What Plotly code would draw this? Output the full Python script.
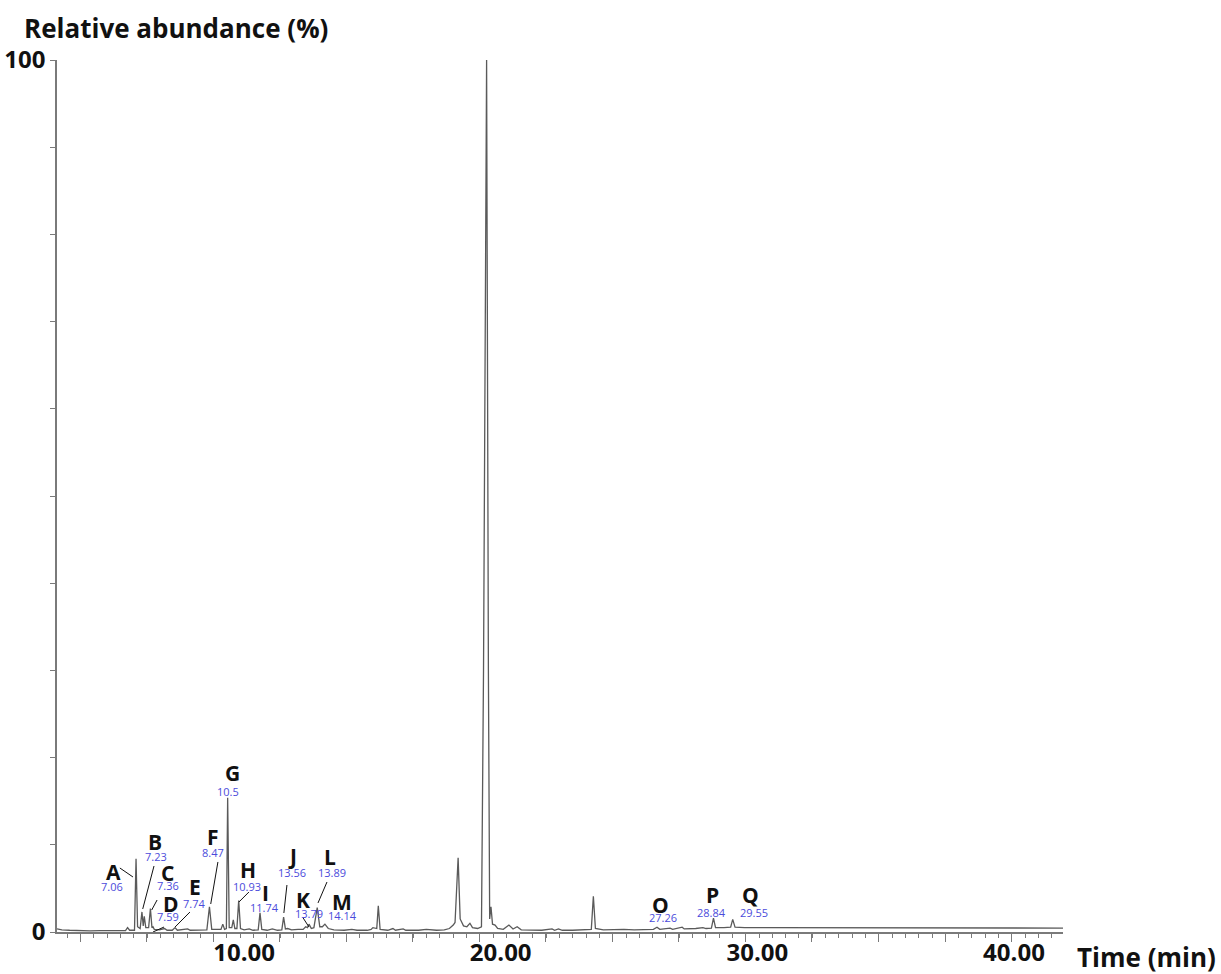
import plotly.graph_objects as go

# ---- chromatogram trace vertices (x in axis units, y in % relative abundance) ----
trace_x = [2.71, 2.9, 3.2, 3.6, 4.0, 4.4, 4.8, 5.2,
           5.38, 5.46, 5.54,
           5.73, 5.79, 5.85, 5.95,
           6.02, 6.07, 6.11, 6.17, 6.28, 6.35, 6.41, 6.45, 6.5,
           6.7, 6.9, 7.0, 7.2, 7.31, 7.4, 7.8, 7.9, 8.2, 8.55,
           8.65, 8.74, 9.10, 9.17, 9.24, 9.31,
           9.36, 9.42, 9.52, 9.58, 9.64, 9.72,
           9.79, 9.86, 10.0, 10.2, 10.35,
           10.55, 10.62, 10.69, 10.9, 11.1, 11.3,
           11.47, 11.54, 11.61, 11.7, 11.85, 12.1, 12.3,
           12.4, 12.47, 12.53, 12.62, 12.72,
           12.85, 12.95, 13.05,
           13.15, 13.28, 13.5, 13.9, 14.2, 14.4, 14.8,
           14.95, 15.02, 15.1, 15.17, 15.23, 15.3, 15.6, 15.8, 15.9, 16.2, 16.3, 16.8, 17.1, 17.5, 17.8,
           18.0, 18.15, 18.22, 18.34, 18.42, 18.55, 18.68, 18.80, 18.9, 19.1, 19.25,
           19.33, 19.45, 19.52, 19.57,
           19.62, 19.68, 19.78, 19.88, 20.1, 20.32, 20.48, 20.64, 20.8, 21.2, 21.6, 22.0, 22.1, 22.25, 22.4,
           22.8, 23.1, 23.4,
           23.53, 23.61, 23.69, 24.0, 24.4, 24.8, 25.2, 25.6, 25.95,
           26.09, 26.2, 26.6, 26.7, 27.07, 27.15, 27.6, 27.88, 28.0, 28.21,
           28.29, 28.37, 28.7, 28.96,
           29.04, 29.13, 29.5, 30.5, 31.5, 32.5, 33.5, 34.5, 35.5, 36.5, 37.5, 38.5, 39.5, 40.5, 41.91]
trace_y = [0.35, 0.25, 0.2, 0.15, 0.12, 0.15, 0.12, 0.15,
           0.15, 0.5, 0.2,
           0.2, 8.4, 0.6, 0.4,
           2.3, 0.7, 1.8, 0.5, 0.5, 2.7, 0.5, 0.6, 0.3,
           0.25, 0.4, 0.2, 0.2, 0.5, 0.2, 0.35, 0.2, 0.25, 0.25,
           2.9, 0.3, 0.3, 0.9, 0.3, 0.4,
           15.4, 0.5, 0.5, 1.4, 0.4, 0.4,
           3.6, 0.4, 0.25, 0.35, 0.2,
           0.25, 2.2, 0.3, 0.2, 0.35, 0.2,
           0.25, 1.7, 0.35, 0.4, 0.25, 0.3, 0.3,
           0.6, 0.5, 0.9, 0.4, 0.5,
           2.8, 0.6, 0.6,
           0.9, 0.4, 0.25, 0.2, 0.3, 0.2, 0.2,
           0.3, 0.5, 0.4, 0.4, 3.0, 0.3, 0.2, 0.4, 0.2, 0.35, 0.2, 0.2, 0.3, 0.2, 0.25,
           0.4, 0.8, 1.1, 8.5, 1.5, 0.7, 0.6, 1.0, 0.5, 0.4, 0.6,
           30.0, 100.0, 30.0, 1.5,
           2.9, 0.9, 0.8, 0.4, 0.3, 0.8, 0.35, 0.6, 0.25, 0.2, 0.2, 0.35, 0.2, 0.35, 0.2,
           0.2, 0.25, 0.25,
           0.3, 4.1, 0.4, 0.25, 0.3, 0.3, 0.25, 0.3, 0.3,
           0.55, 0.3, 0.45, 0.3, 0.55, 0.35, 0.4, 0.5, 0.4, 0.45,
           1.6, 0.5, 0.5, 0.55,
           1.45, 0.55, 0.5, 0.5, 0.45, 0.45, 0.5, 0.45, 0.45, 0.5, 0.45, 0.45, 0.45, 0.45, 0.45]

# ---- peak labels ----
peak_letters = ["A", "B", "C", "D", "E", "F", "G", "H", "I", "J", "K", "L", "M", "N", "O", "P", "Q"]
peak_rt_text = ["7.06", "7.23", "7.36", "7.59", "7.74", "8.47", "10.5", "10.93", "11.74",
                "13.56", "13.79", "13.89", "14.14", "20.24", "27.26", "28.84", "29.55"]
letter_x = [4.90, 6.53, 7.02, 7.14, 8.09, 8.80, 9.54, 10.16, 10.84, 11.89, 12.31, 13.35, 13.80, 19.31, 26.21, 28.27, 29.72]
letter_y = [6.92, 10.36, 6.73, 3.21, 5.19, 10.86, 18.27, 7.11, 4.44, 8.72, 3.67, 8.64, 3.47, 103.2, 3.10, 4.24, 4.24]
rt_x = [4.84, 6.57, 7.05, 7.05, 8.06, 8.78, 9.36, 10.12, 10.78, 11.88, 12.53, 13.41, 13.83, 19.31, 26.31, 28.22, 29.87]
rt_y = [5.19, 8.64, 5.39, 1.75, 3.29, 9.09, 16.09, 5.19, 2.83, 6.85, 2.14, 6.80, 1.87, 101.3, 1.61, 2.29, 2.29]

# leader lines from label to peak
leader_x0 = [5.16, 6.49, 6.61, 6.88, 7.89, 8.98, 10.19, 11.67, 12.30, 13.23]
leader_y0 = [7.34, 7.57, 3.67, 0.57, 2.29, 8.03, 4.59, 5.39, 1.61, 5.73]
leader_x1 = [5.67, 6.05, 6.40, 6.45, 7.31, 8.70, 9.80, 11.55, 12.53, 12.88]
leader_y1 = [6.31, 2.64, 2.52, 0.0, 0.57, 3.21, 3.44, 2.18, 0.57, 3.33]

# ---- axes ----
x_range = [2.71, 41.91]
x_label_vals = [10, 20, 30, 40]
x_label_text = ["10.00", "20.00", "30.00", "40.00"]
y_tick_vals = [0, 10, 20, 30, 40, 50, 60, 70, 80, 90, 100]
y_tick_text = ["0", "", "", "", "", "", "", "", "", "", "100"]

FONT = "Open Sans"
AXIS_COL = "#7a7a7a"
NUM_COL = "#4B4BDB"

fig = go.Figure()
fig.add_trace(go.Scatter(x=trace_x, y=trace_y, mode="lines",
                         line=dict(color="#5a5a5a", width=1.3),
                         hoverinfo="skip", showlegend=False, cliponaxis=False))

# leader lines live on the labelled overlay axis (same range as the main axis)
for i in range(len(leader_x0)):
    fig.add_trace(go.Scatter(x=[leader_x0[i], leader_x1[i]], y=[leader_y0[i], leader_y1[i]],
                             xaxis="x2", mode="lines", line=dict(color="#111111", width=1),
                             hoverinfo="skip", showlegend=False))

for i in range(len(peak_letters)):
    fig.add_annotation(x=letter_x[i], y=letter_y[i], text=peak_letters[i],
                       showarrow=False, font=dict(family=FONT, size=21, color="#111111", weight="bold"),
                       xanchor="center", yanchor="middle")
    fig.add_annotation(x=rt_x[i], y=rt_y[i], text=peak_rt_text[i],
                       showarrow=False, font=dict(family=FONT, size=11, color=NUM_COL),
                       xanchor="center", yanchor="middle")

fig.add_annotation(xref="paper", yref="paper", x=-0.0348, y=1.0367,
                   text="Relative abundance (%)", showarrow=False,
                   font=dict(family=FONT, size=26, color="#111111", weight="bold"),
                   xanchor="left", yanchor="middle")
fig.add_annotation(xref="paper", yref="paper", x=1.012, y=-0.0287,
                   text="Time (min)", showarrow=False,
                   font=dict(family=FONT, size=26, color="#111111", weight="bold"),
                   xanchor="left", yanchor="middle")

fig.update_layout(
    width=1221, height=974,
    margin=dict(l=57, r=158, t=60, b=42, autoexpand=False),
    paper_bgcolor="white", plot_bgcolor="white",
    showlegend=False,
    xaxis=dict(range=x_range, tickmode="linear", tick0=8.80, dtick=2.592,
               ticks="outside", ticklen=8, tickcolor=AXIS_COL, showticklabels=False,
               showline=True, linecolor=AXIS_COL, linewidth=1.5, automargin=False,
               showgrid=False, zeroline=False,
               minor=dict(ticks="outside", ticklen=4, tickcolor=AXIS_COL, dtick=0.5184,
                          showgrid=False)),
    xaxis2=dict(range=x_range, overlaying="x", anchor="y", side="bottom", automargin=False,
                tickmode="array", tickvals=x_label_vals, ticktext=x_label_text,
                ticks="", showgrid=False, zeroline=False, showline=False, ticklabelstandoff=4,
                tickfont=dict(family=FONT, size=24, color="#111111", weight="bold")),
    yaxis=dict(range=[0, 100], tickmode="array", tickvals=y_tick_vals, ticktext=y_tick_text,
               ticks="outside", ticklen=5, tickcolor=AXIS_COL, showline=True, linecolor=AXIS_COL,
               linewidth=1.5, showgrid=False, zeroline=False, automargin=False,
               tickfont=dict(family=FONT, size=24, color="#111111", weight="bold")),
)

fig.write_html("out.html", config={"displayModeBar": False},
               post_script="document.body.style.margin='0px';")
